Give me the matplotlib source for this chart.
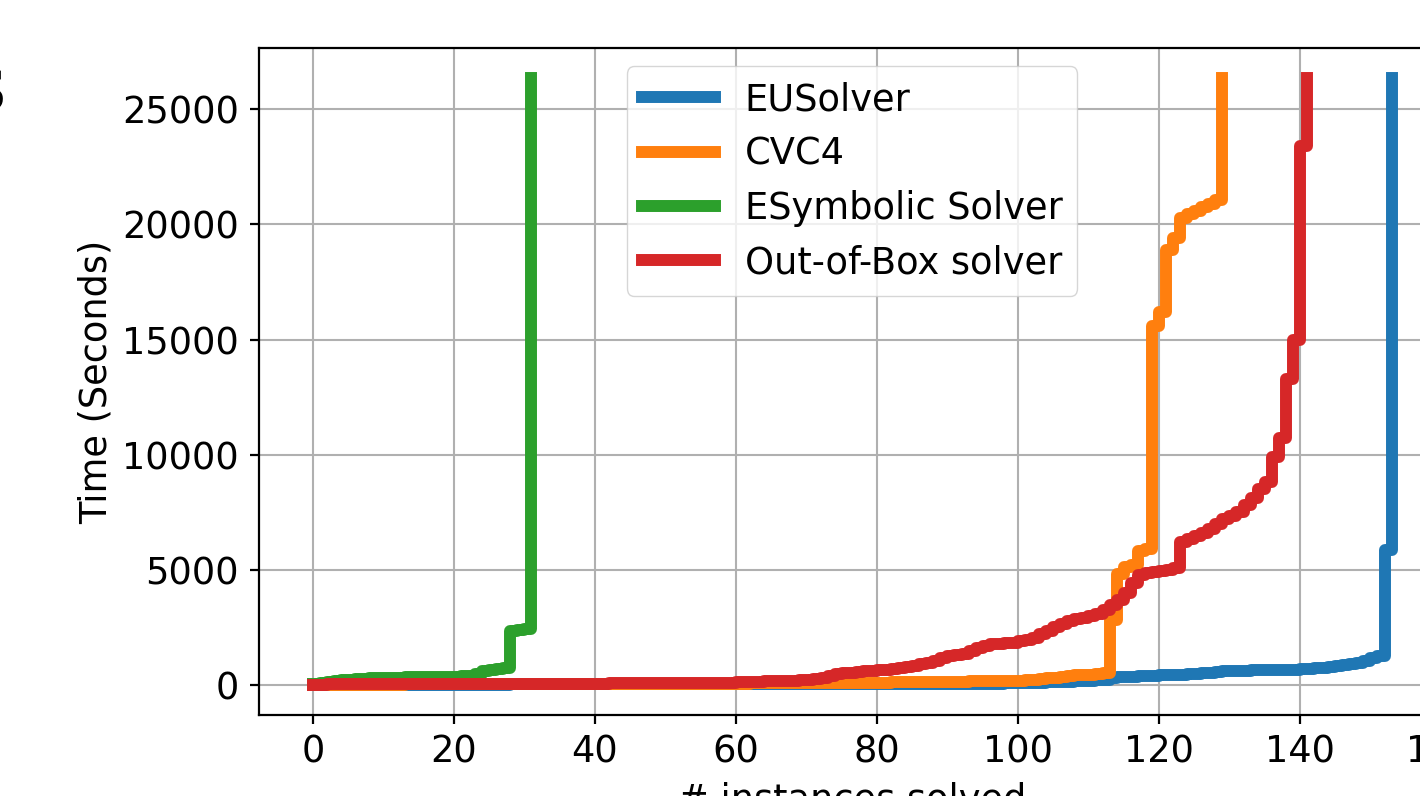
import matplotlib
matplotlib.use("Agg")
import matplotlib.pyplot as plt

labels = ["EUSolver", "CVC4", "ESymbolic Solver", "Out-of-Box solver"]
colors = ["#1f77b4", "#ff7f0e", "#2ca02c", "#d62728"]

eusolver = [
    1, 1, 1, 2, 2, 2, 2, 3, 3, 3,
    3, 4, 4, 4, 4, 5, 5, 5, 5, 6,
    6, 6, 7, 7, 7, 8, 8, 8, 9, 9,
    9, 10, 10, 10, 11, 11, 11, 12, 12, 12,
    13, 13, 13, 14, 14, 14, 15, 15, 15, 16,
    16, 16, 17, 17, 17, 18, 18, 18, 19, 19,
    19, 20, 20, 21, 21, 22, 22, 23, 23, 24,
    24, 25, 25, 26, 26, 27, 27, 28, 28, 29,
    30, 31, 32, 33, 34, 35, 36, 37, 38, 39,
    40, 41, 42, 43, 45, 47, 49, 51, 53, 55,
    60, 70, 80, 90, 100, 110, 120, 130, 140, 150,
    170, 190, 220, 280, 320, 340, 350, 370, 380, 390,
    400, 410, 420, 440, 460, 480, 500, 520, 560, 580,
    590, 600, 610, 620, 630, 640, 650, 650, 660, 660,
    670, 690, 710, 730, 750, 800, 850, 900, 950, 1050,
    1150, 1250, 5850, 26350,
]

cvc4 = [
    2, 3, 3, 4, 4, 5, 5, 6, 6, 7,
    7, 8, 8, 9, 9, 10, 10, 11, 11, 12,
    12, 13, 13, 14, 14, 15, 15, 16, 16, 17,
    18, 19, 20, 21, 22, 23, 24, 25, 26, 27,
    28, 29, 30, 31, 32, 33, 34, 35, 36, 37,
    38, 39, 40, 41, 42, 43, 44, 45, 46, 48,
    50, 52, 53, 56, 58, 60, 61, 64, 66, 68,
    70, 71, 74, 76, 78, 80, 82, 83, 86, 88,
    90, 94, 97, 102, 106, 110, 113, 118, 122, 126,
    130, 134, 137, 142, 146, 150, 153, 158, 162, 166,
    170, 190, 220, 250, 280, 310, 340, 370, 400, 420,
    440, 470, 500, 2800, 4800, 5100, 5200, 5800, 5900, 15600,
    16200, 18900, 19400, 20300, 20450, 20600, 20750, 20900, 21050, 26350,
]

esymbolic = [
    20, 60, 100, 150, 200, 220, 240, 260, 280, 300,
    300, 310, 310, 320, 320, 330, 330, 340, 340, 350,
    350, 360, 370, 450, 600, 650, 700, 720, 2350, 2380,
    2420, 26350,
]

outofbox = [
    5, 8, 10, 12, 14, 15, 16, 17, 18, 19,
    20, 21, 22, 23, 24, 25, 26, 27, 28, 29,
    30, 31, 32, 33, 34, 35, 36, 37, 38, 39,
    40, 41, 42, 43, 44, 45, 46, 47, 48, 49,
    50, 52, 54, 56, 58, 60, 62, 64, 66, 68,
    70, 72, 74, 76, 78, 80, 83, 86, 90, 95,
    100, 110, 120, 130, 140, 150, 160, 170, 180, 200,
    220, 250, 300, 380, 450, 500, 530, 560, 580, 600,
    620, 650, 680, 720, 760, 820, 880, 950, 1050, 1150,
    1250, 1300, 1350, 1450, 1600, 1700, 1750, 1780, 1800, 1830,
    1880, 1950, 2050, 2200, 2350, 2500, 2650, 2750, 2850, 2920,
    3000, 3080, 3250, 3450, 3700, 4000, 4400, 4750, 4850, 4900,
    4950, 5000, 5050, 6200, 6350, 6450, 6600, 6750, 7000, 7200,
    7350, 7500, 7800, 8100, 8500, 8800, 9900, 10700, 13300, 15000,
    23400, 26350,
]

series = [eusolver, cvc4, esymbolic, outofbox]

FS = 26.5
plt.rcParams["font.family"] = ["DejaVu Sans"]
plt.rcParams["font.size"] = FS

W, H = 1420, 796
fig = plt.figure(figsize=(W / 100, H / 100), dpi=100)
ax = fig.add_axes([259 / W, 81 / H, 1186.5 / W, 667 / H])

for vals, lab, col in zip(series, labels, colors):
    ax.plot(range(len(vals)), vals, drawstyle="steps-post", color=col,
            lw=8.6, label=lab)

ax.grid(True, color="#b0b0b0", lw=1.5)
ax.set_axisbelow(True)
for sp in ax.spines.values():
    sp.set_linewidth(1.6)
ax.tick_params(axis="both", labelsize=FS, length=6.5, width=1.6)
ax.tick_params(axis="x", pad=7)
ax.tick_params(axis="y", pad=8)
ax.set_yticks([0, 5000, 10000, 15000, 20000, 25000])
ax.set_xticks([0, 20, 40, 60, 80, 100, 120, 140, 160])

ax.set_ylabel("Time (Seconds)", fontsize=FS, labelpad=5)
ax.set_xlabel("# instances solved", fontsize=FS, labelpad=8)

ax.legend(loc="upper center", fontsize=FS, handlelength=2.0,
          labelspacing=0.47)

fig.text(6 / W, 1 - 95 / H, "S", ha="right", va="center", fontsize=40,
         family="DejaVu Serif")

fig.savefig("out.png", dpi=100)
